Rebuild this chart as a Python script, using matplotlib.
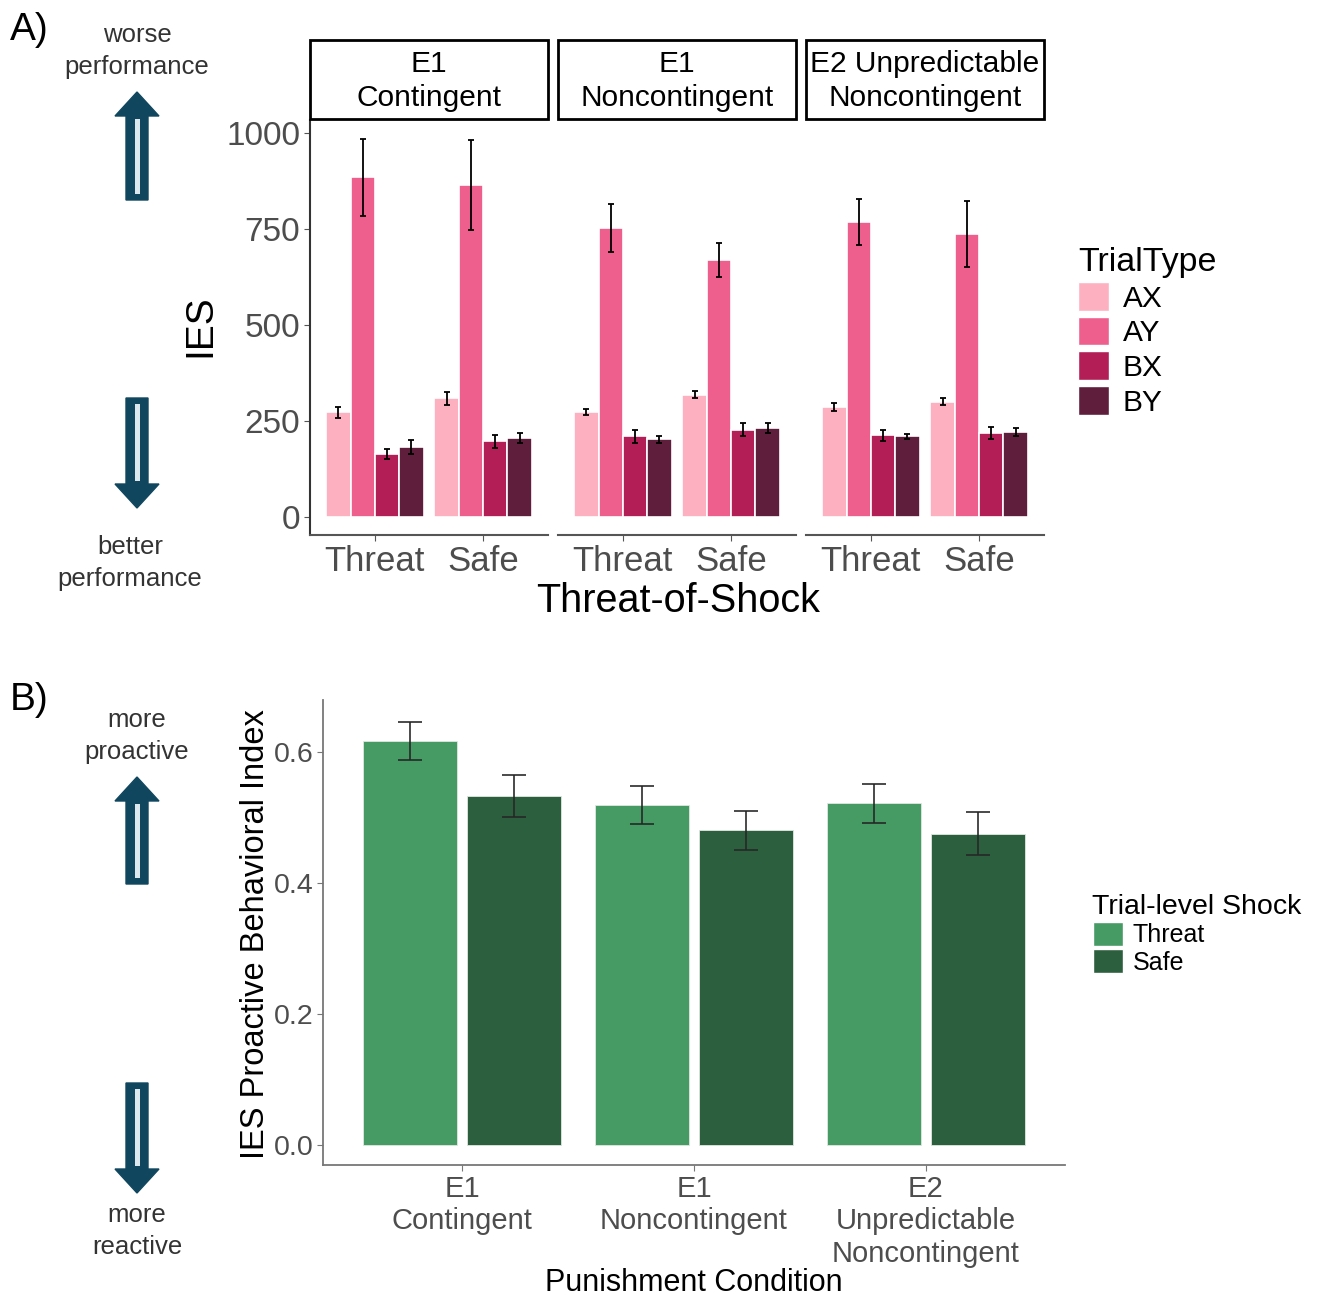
import matplotlib.pyplot as plt
import matplotlib.patches as mpatches
import numpy as np

plt.rcParams.update({
    "font.family": ["Liberation Sans", "DejaVu Sans"],
    "font.size": 18,
})

# ---- data ----
trial_types = ["AX", "AY", "BX", "BY"]
trial_colors = ["#fdb1c0", "#ee5f8e", "#b41e57", "#5f1e3b"]
shock_levels = ["Threat", "Safe"]
facet_titles = ["E1\nContingent", "E1\nNoncontingent", "E2 Unpredictable\nNoncontingent"]

# IES means (Threat AX,AY,BX,BY then Safe AX,AY,BX,BY)
ies_e1_contingent = [272, 885, 163, 182, 308, 864, 196, 205]
ies_e1_contingent_se = [15, 100, 12, 18, 18, 117, 18, 12]
ies_e1_noncontingent = [273, 753, 209, 201, 318, 669, 227, 232]
ies_e1_noncontingent_se = [8, 63, 16, 10, 10, 45, 18, 13]
ies_e2_unpredictable = [285, 768, 212, 209, 300, 737, 217, 221]
ies_e2_unpredictable_se = [10, 61, 14, 7, 10, 87, 16, 10]

punish_conditions = ["E1\nContingent", "E1\nNoncontingent", "E2\nUnpredictable\nNoncontingent"]
pbi_threat = [0.617, 0.519, 0.521]
pbi_threat_se = [0.029, 0.029, 0.030]
pbi_safe = [0.532, 0.480, 0.475]
pbi_safe_se = [0.032, 0.030, 0.033]
shock_colors = ["#469a64", "#2c5f3e"]

W, H = 1320, 1299
fig = plt.figure(figsize=(W / 100, H / 100), dpi=100)


def fx(x):
    return x / W


def fy(y):
    return 1 - y / H


def px_axes(x0, y0, x1, y1):
    return fig.add_axes([fx(x0), fy(y1), (x1 - x0) / W, (y1 - y0) / H])


grey_txt = "#4d4d4d"

# ---- panel A ----
facet_x = [(310, 548), (558, 796), (806, 1044)]
facet_means = [ies_e1_contingent, ies_e1_noncontingent, ies_e2_unpredictable]
facet_se = [ies_e1_contingent_se, ies_e1_noncontingent_se, ies_e2_unpredictable_se]
dodge = 0.9 / len(trial_types)

for k, (x0, x1) in enumerate(facet_x):
    ax = px_axes(x0, 120, x1, 535)
    means = np.array(facet_means[k]).reshape(2, 4)
    ses = np.array(facet_se[k]).reshape(2, 4)
    x = np.arange(len(shock_levels))
    for j, tt in enumerate(trial_types):
        xo = x + (j - 1.5) * dodge
        ax.bar(xo, means[:, j], width=dodge, color=trial_colors[j],
               edgecolor="white", linewidth=1.2)
        ax.errorbar(xo, means[:, j], yerr=ses[:, j], fmt="none",
                    ecolor="black", elinewidth=1.3, capsize=2.2, capthick=1.3)
    ax.set_xlim(-0.6, 1.6)
    ax.set_ylim(-48, 1034)
    ax.set_xticks(x)
    ax.set_xticklabels(shock_levels, fontsize=25, color=grey_txt)
    for s in ["top", "right"]:
        ax.spines[s].set_visible(False)
    ax.spines["bottom"].set_color("#555555")
    ax.spines["bottom"].set_linewidth(1.5)
    ax.tick_params(axis="x", length=4, color="#555555", pad=3)
    if k == 0:
        ax.set_yticks([0, 250, 500, 750, 1000])
        ax.tick_params(axis="y", labelsize=24, labelcolor=grey_txt, length=4,
                       color="#555555", pad=3)
        ax.spines["left"].set_color("#333333")
        ax.spines["left"].set_linewidth(1.5)
    else:
        ax.spines["left"].set_visible(False)
        ax.set_yticks([])
    # facet strip
    fig.add_artist(mpatches.Rectangle((fx(x0), fy(119)), (x1 - x0) / W, 79 / H,
                                      transform=fig.transFigure, facecolor="white",
                                      edgecolor="black", linewidth=2))
    fig.text(fx((x0 + x1) / 2), fy(81), facet_titles[k], ha="center", va="center",
             fontsize=21.5, linespacing=1.3)

fig.text(fx(678), fy(601), "Threat-of-Shock", ha="center", va="center", fontsize=28.5)
fig.text(fx(200), fy(326), "IES", ha="center", va="center", rotation=90, fontsize=28)

handles_a = [mpatches.Patch(facecolor=c, edgecolor="white", label=t)
             for c, t in zip(trial_colors, trial_types)]
fig.legend(handles=handles_a, title="TrialType", loc="upper left",
           bbox_to_anchor=(fx(1063), fy(232)), frameon=False, fontsize=21.5,
           title_fontsize=24.5, handlelength=1.05, handleheight=1.1,
           handletextpad=0.45, labelspacing=0.14, borderpad=0, alignment="left")

# ---- panel B ----
axb = px_axes(323, 700, 1065, 1165)
xb = np.arange(len(punish_conditions))
bw = 0.45
for j, (vals, errs) in enumerate([(pbi_threat, pbi_threat_se), (pbi_safe, pbi_safe_se)]):
    xo = xb + (j - 0.5) * bw
    axb.bar(xo, vals, width=0.405, color=shock_colors[j], edgecolor="#dfe8e2",
            linewidth=0.6, label=shock_levels[j])
    axb.errorbar(xo, vals, yerr=errs, fmt="none", ecolor="#262626",
                 elinewidth=1.3, capsize=8.3, capthick=1.3, alpha=0.9)
axb.set_xlim(-0.6, 2.6)
axb.set_ylim(-0.031, 0.679)
axb.set_yticks([0.0, 0.2, 0.4, 0.6])
axb.set_yticklabels(["0.0", "0.2", "0.4", "0.6"])
axb.set_xticks(xb)
axb.set_xticklabels(punish_conditions, linespacing=1.2)
axb.tick_params(axis="both", labelsize=20.5, labelcolor=grey_txt, length=4,
                color="#777777", pad=3)
axb.tick_params(axis="x", labelsize=21)
for s in ["top", "right"]:
    axb.spines[s].set_visible(False)
for s in ["left", "bottom"]:
    axb.spines[s].set_color("#777777")
    axb.spines[s].set_linewidth(1.3)

fig.text(fx(694), fy(1283), "Punishment Condition", ha="center", va="center", fontsize=22)
fig.text(fx(255), fy(934), "IES Proactive Behavioral Index", ha="center", va="center",
         rotation=90, fontsize=23.5)

handles_b = [mpatches.Patch(facecolor=c, edgecolor="white", label=t)
             for c, t in zip(shock_colors, shock_levels)]
fig.legend(handles=handles_b, title="Trial-level Shock", loc="upper left",
           bbox_to_anchor=(fx(1080), fy(881)), frameon=False, fontsize=18,
           title_fontsize=20.5, handlelength=1.2, handleheight=1.1,
           handletextpad=0.4, labelspacing=0.08, borderpad=0, alignment="left")

# ---- panel letters, side notes and arrows ----
fig.text(fx(10), fy(30), "A)", ha="left", va="center", fontsize=28)
fig.text(fx(10), fy(700), "B)", ha="left", va="center", fontsize=28)

note_color = "#333333"
note_kw = dict(ha="center", va="center", fontsize=18.5, color=note_color, linespacing=1.45)
fig.text(fx(137), fy(51), "worse\nperformance", **note_kw)
fig.text(fx(130), fy(563), "better\nperformance", **note_kw)
fig.text(fx(137), fy(736), "more\nproactive", **note_kw)
fig.text(fx(137), fy(1231), "more\nreactive", **note_kw)

arrow_color = "#10475f"


def block_arrow(xc, y_tail, y_tip):
    # arrow drawn in pixel units, converted to figure fraction
    d = 1 if y_tip > y_tail else -1
    shaft, head, head_len = 11, 22, 24
    y_hb = y_tip - d * head_len
    pts = [(xc - shaft, y_tail), (xc - shaft, y_hb), (xc - head, y_hb), (xc, y_tip),
           (xc + head, y_hb), (xc + shaft, y_hb), (xc + shaft, y_tail)]
    fig.add_artist(mpatches.Polygon([(fx(a), fy(b)) for a, b in pts], closed=True,
                                    transform=fig.transFigure, facecolor=arrow_color,
                                    edgecolor=arrow_color, linewidth=1))
    ya, yb = sorted([y_tail + d * 6, y_hb - d * 3])
    fig.add_artist(mpatches.Rectangle((fx(xc - 2.5), fy(yb)), 5 / W, (yb - ya) / H,
                                      transform=fig.transFigure, facecolor="#dce8ee",
                                      edgecolor="none"))


block_arrow(137, 200, 92)
block_arrow(137, 398, 508)
block_arrow(137, 884, 777)
block_arrow(137, 1083, 1193)

fig.savefig("out.png", dpi=100)
